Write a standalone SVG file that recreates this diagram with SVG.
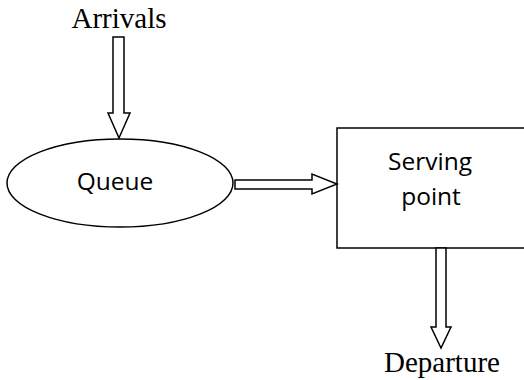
<svg xmlns="http://www.w3.org/2000/svg" width="524" height="380" viewBox="0 0 524 380">
<style>
.shape{fill:#fff;stroke:#000;stroke-width:1.5}
.arrow{fill:#fff;stroke:#000;stroke-width:1.5;stroke-linejoin:miter}
.serif{font-family:"Liberation Serif","Times New Roman",serif;font-size:29px;fill:#000}
.sans{font-family:"Open Sans","Noto Sans",sans-serif;font-size:24.5px;fill:#000}
</style>
<rect width="524" height="380" fill="#fff"/>
<g id="arrivals">
<text class="serif" x="119" y="28" text-anchor="middle">Arrivals</text>
</g>
<g id="queue">
<ellipse class="shape" cx="120" cy="183" rx="113" ry="44"/>
<text class="sans" x="115" y="190" text-anchor="middle">Queue</text>
</g>
<g id="serving-point">
<rect class="shape" x="337" y="128" width="200" height="120"/>
<text class="sans" x="430" y="170" text-anchor="middle">Serving</text>
<text class="sans" x="431" y="205" text-anchor="middle">point</text>
</g>
<g id="departure">
<text class="serif" x="442" y="372" text-anchor="middle">Departure</text>
</g>
<g id="connectors">
<polygon class="arrow" points="113,37 124,37 124,113 130,113 119,138 108,113 113,113"/>
<polygon class="arrow" points="235,180 312,180 312,174 337,184 312,194 312,189 235,189"/>
<polygon class="arrow" points="436,248 446,248 446,327 451,327 441,348 431,327 436,327"/>
</g>
</svg>
